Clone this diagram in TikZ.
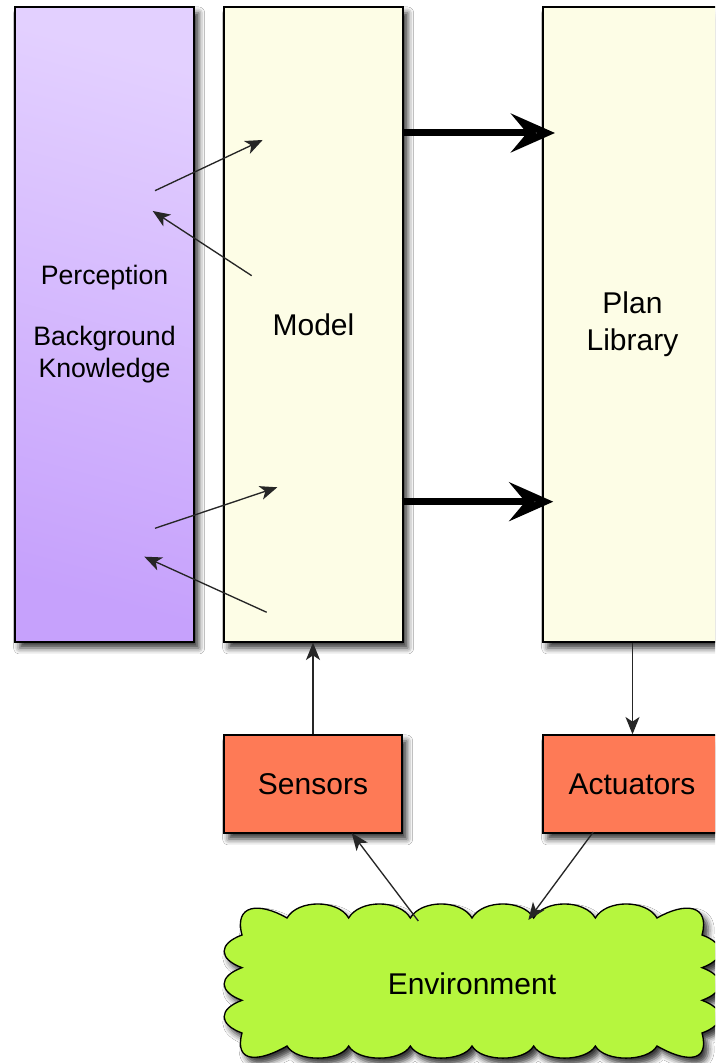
\documentclass[tikz,border=0pt]{standalone}
\usepackage{fontspec}
\setmainfont{Liberation Sans}
\usetikzlibrary{arrows.meta,shadows.blur}
\definecolor{percTop}{HTML}{E3D0FF}
\definecolor{percBot}{HTML}{C6A1FC}
\definecolor{cream}{HTML}{FDFDE6}
\definecolor{salmon}{HTML}{FE7A56}
\definecolor{lime}{HTML}{B6F63E}
\begin{document}
\begin{tikzpicture}[x=0.75pt,y=0.75pt,
  softshadow/.style={blur shadow={shadow xshift=3.5pt, shadow yshift=-4.5pt, shadow blur radius=4.5pt, shadow opacity=80}},
  box/.style={draw=black, line width=1pt, softshadow, inner sep=0pt},
  tallbox/.style={box, minimum width=134.25pt, minimum height=476.25pt},
  smallbox/.style={box, fill=salmon, minimum width=133.5pt, minimum height=73.5pt},
  lbl/.style={font=\fontsize{22.5pt}{27.5pt}\selectfont, align=center},
  smalllbl/.style={font=\fontsize{20pt}{24pt}\selectfont, align=center},
  sarrow/.style={line width=1pt, draw=black!85, -{Stealth[length=13pt,width=10.5pt,inset=3.5pt]}},
  barrow/.style={line width=5.25pt, -{Stealth[length=33pt,width=29pt,inset=12pt]}},
  tb/.style={out=60,in=120,distance=16.2pt},
  bb/.style={out=240,in=300,distance=14pt},
  rb/.style={out=340,in=20,distance=19pt},
  lb/.style={out=160,in=200,distance=19pt},
  cornerb/.style={distance=24pt}
]
\useasboundingbox (0,0) rectangle (715,1063);
\fill[white] (0,0) rectangle (715,1063);
\clip (0,0) rectangle (715,1063);

% boxes
\node[tallbox, top color=percTop, bottom color=percBot, shading angle=-15, smalllbl] (perc) at (104.5,738.5)
  {Perception\\[21.75pt]Background\\Knowledge};
\node[tallbox, fill=cream, lbl] (model) at (313.5,738.5) {Model};
\node[tallbox, fill=cream, lbl] (plan) at (632.5,738.5) {Plan\\Library};
\node[smallbox, lbl] (sens) at (313,279) {Sensors};
\node[smallbox, lbl] (act) at (632,279) {Actuators};

% cloud
\path[draw=black, line width=1pt, fill=lime, softshadow]
  (287,145) to[tb] (348.67,145) to[tb] (410.33,145) to[tb] (472,145)
  to[tb] (533.67,145) to[tb] (595.33,145) to[tb] (657,145)
  to[cornerb,out=30,in=75] (702,128)
  to[rb] (702,95.33) to[rb] (702,62.67) to[rb] (702,30)
  to[cornerb,out=285,in=330] (657,17)
  to[bb] (595.33,17) to[bb] (533.67,17) to[bb] (472,17)
  to[bb] (410.33,17) to[bb] (348.67,17) to[bb] (287,17)
  to[cornerb,out=210,in=255] (242,30)
  to[lb] (242,62.67) to[lb] (242,95.33) to[lb] (242,128)
  to[cornerb,out=105,in=150] (287,145) -- cycle;
\node[lbl] (env) at (472,79.7) {Environment};

% connector end points
\coordinate (pmA) at (155,872.3);
\coordinate (mpA) at (262.7,923);
\coordinate (mpB) at (251.7,787.3);
\coordinate (pmB) at (152.7,852);
\coordinate (pmC) at (155,534.7);
\coordinate (mpC) at (277.3,575.7);
\coordinate (mpD) at (266.7,450.7);
\coordinate (pmD) at (144.3,506.3);
\coordinate (moA) at (403,930);
\coordinate (plA) at (555,930);
\coordinate (moB) at (401.7,561.3);
\coordinate (plB) at (553.3,561.3);
\coordinate (envS) at (418.3,142);
\coordinate (sensB) at (351.7,230);
\coordinate (actB) at (593.3,231);
\coordinate (envA) at (528.3,143);

% connectors
\draw[sarrow] (pmA) -- (mpA);
\draw[sarrow] (mpB) -- (pmB);
\draw[sarrow] (pmC) -- (mpC);
\draw[sarrow] (mpD) -- (pmD);
\draw[barrow] (moA) -- (plA);
\draw[barrow] (moB) -- (plB);
\draw[sarrow] (sens.north) -- (sens.north |- model.south);
\draw[sarrow] (plan.south) -- (plan.south |- act.north);
\draw[sarrow] (envS) -- (sensB);
\draw[sarrow] (actB) -- (envA);
\end{tikzpicture}
\end{document}
